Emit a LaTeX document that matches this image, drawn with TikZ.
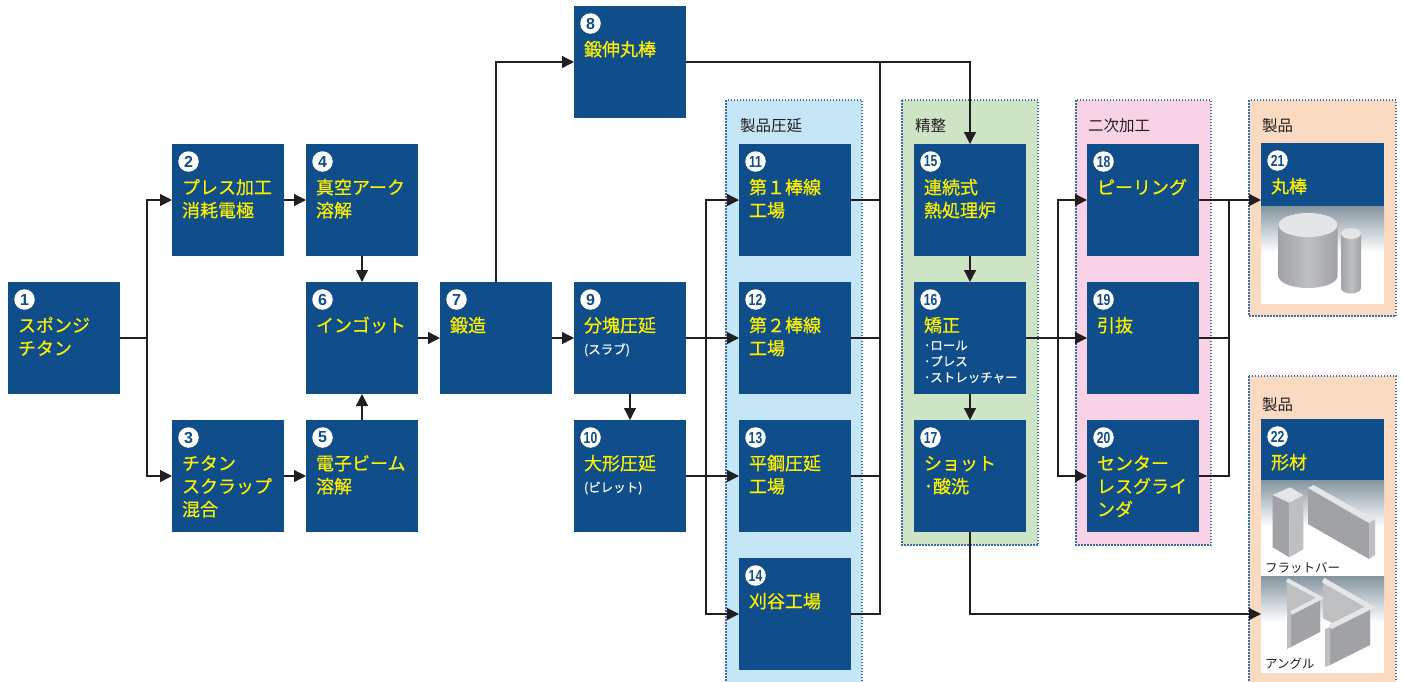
\documentclass[tikz,border=0pt]{standalone}
\usepackage{fontspec}
\usepackage{graphicx}
\usepackage{tikz}
\usetikzlibrary{arrows.meta}
\setmainfont{Noto Sans CJK JP}
\newfontfamily\titlefam{Noto Sans CJK JP}[FakeBold=0.5]
\newfontfamily\digitfam{Liberation Sans}

\definecolor{tiblue}{HTML}{0F4D8B}
\definecolor{tiyellow}{HTML}{FFF000}
\definecolor{rollbg}{HTML}{C5E6F7}
\definecolor{finbg}{HTML}{CEE5C5}
\definecolor{secbg}{HTML}{F8D3E5}
\definecolor{prodbg}{HTML}{FBDAC2}
\definecolor{dotblue}{HTML}{3C6EA6}
\definecolor{inkblack}{HTML}{231F20}
\definecolor{wirecol}{HTML}{231F20}
\definecolor{sky}{HTML}{84959F}
\definecolor{metal}{HTML}{A0A2A5}
\definecolor{metallight}{HTML}{BDBFC1}
\definecolor{metaltop}{HTML}{E4E5E6}

\newcommand\boxfont{\titlefam\fontsize{18pt}{23pt}\selectfont}
\newcommand\notefont{\fontsize{12.5pt}{16pt}\selectfont}
\newcommand\groupfont{\fontsize{15.5pt}{18pt}\selectfont}
\newcommand\badgefont{\digitfam\bfseries\fontsize{16pt}{16pt}\selectfont}
\newcommand\stepnote[2][2pt]{\par\vspace{#1}{\notefont\color{white}#2\par}}
\newcommand\twodig[1]{\scalebox{0.76}[1]{#1}}

\tikzstyle{block} = [rectangle, fill=tiblue, text=tiyellow, inner xsep=10pt, inner ysep=0pt, outer sep=0pt, text width=92pt, align=left, text height=50pt, text depth=62pt, font=\boxfont]
\tikzstyle{prod} = [block, text width=103pt]
\tikzstyle{badge} = [circle, fill=white, text=tiblue, inner sep=0pt, minimum size=20.5pt, font=\badgefont, anchor=center, xshift=16.5pt, yshift=-17.5pt]
\tikzstyle{panel} = [draw=dotblue, line width=1.2pt, dash pattern=on 1.5pt off 1.5pt]
\tikzstyle{gtitle} = [anchor=base west, inner sep=0pt, text=inkblack, font=\groupfont]
\tikzstyle{imgnote} = [anchor=base west, inner sep=0pt, text=inkblack, font=\notefont]
\tikzstyle{joint} = [line width=1.3pt, draw=wirecol]
\tikzstyle{arrow} = [joint, ->, >={Triangle[length=12pt,width=12pt]}]

\begin{document}
\begin{tikzpicture}[x=1pt, y=-1pt, node distance=138pt]
\useasboundingbox (0,0) rectangle (1402,681);

% process groups
\draw [panel, fill=rollbg] (726,100) rectangle (862,690);
\draw [panel, fill=finbg] (902,100) rectangle (1038,545);
\draw [panel, fill=secbg] (1076,100) rectangle (1211,545);
\draw [panel, fill=prodbg] (1249,100) rectangle (1396,316);
\draw [panel, fill=prodbg] (1249,376) rectangle (1396,690);
\node (t1) [gtitle] at (740,131) {製品圧延};
\node (t2) [gtitle] at (915,131) {精整};
\node (t3) [gtitle] at (1088,131) {二次加工};
\node (t4) [gtitle] at (1262,131) {製品};
\node (t5) [gtitle] at (1262,410) {製品};

% melting
\node (s1) [block, label={[badge]north west:1}] at (64,338) {スポンジ\\チタン};
\node (s6) [block, right of=s1, xshift=160pt, label={[badge]north west:6}] {インゴット};
\node (s4) [block, above of=s6, label={[badge]north west:4}] {真空アーク\\溶解};
\node (s5) [block, below of=s6, label={[badge]north west:5}] {電子ビーム\\溶解};
\node (s2) [block, left of=s4, xshift=4pt, label={[badge]north west:2}] {プレス加工\\消耗電極};
\node (s3) [block, left of=s5, xshift=4pt, label={[badge]north west:3}] {チタン\\スクラップ\\混合};

% forging and rolling
\node (s7) [block, right of=s6, xshift=-4pt, label={[badge]north west:7}] {鍛造};
\node (s9) [block, right of=s7, xshift=-4pt, label={[badge]north west:9}] {分塊圧延\stepnote[6pt]{(スラブ)}};
\node (s8) [block, above of=s9, yshift=138pt, label={[badge]north west:8}] {鍛伸丸棒};
\node (s10) [block, below of=s9, label={[badge]north west:\twodig{10}}] {大形圧延\stepnote[6pt]{(ビレット)}};

% product rolling
\node (s12) [block, right of=s9, xshift=27pt, label={[badge]north west:\twodig{12}}] {第２棒線\\工場};
\node (s11) [block, above of=s12, label={[badge]north west:\twodig{11}}] {第１棒線\\工場};
\node (s13) [block, below of=s12, label={[badge]north west:\twodig{13}}] {平鋼圧延\\工場};
\node (s14) [block, below of=s13, label={[badge]north west:\twodig{14}}] {刈谷工場};

% finishing
\node (s16) [block, right of=s12, xshift=37pt, label={[badge]north west:\twodig{16}}] {矯正\stepnote{･ロール\\･プレス\\･ストレッチャー}};
\node (s15) [block, above of=s16, label={[badge]north west:\twodig{15}}] {連続式\\熱処理炉};
\node (s17) [block, below of=s16, label={[badge]north west:\twodig{17}}] {ショット\\･酸洗};

% secondary work
\node (s19) [block, right of=s16, xshift=35pt, label={[badge]north west:\twodig{19}}] {引抜};
\node (s18) [block, above of=s19, label={[badge]north west:\twodig{18}}] {ピーリング};
\node (s20) [block, below of=s19, label={[badge]north west:\twodig{20}}] {センター\\レスグライ\\ンダ};

% products
\node (s21) [prod, right of=s18, xshift=41.5pt, yshift=-23.5pt, text depth=111pt, label={[badge]north west:\twodig{21}}] {丸棒};
\node (s22) [prod, right of=s20, xshift=41.5pt, yshift=-70pt, text depth=204pt, label={[badge]north west:\twodig{22}}] {形材};

\coordinate (m1) at (880,62);
\coordinate (m2) at (1229,200);

% connectors
\draw [arrow] (s1.east) -- ++(27,0) |- (s2);
\draw [arrow] (s1.east) -- ++(27,0) |- (s3);
\draw [arrow] (s2) -- (s4);
\draw [arrow] (s3) -- (s5);
\draw [arrow] (s4) -- (s6);
\draw [arrow] (s5) -- (s6);
\draw [arrow] (s6) -- (s7);
\draw [arrow] (s7) |- (s8);
\draw [arrow] (s7) -- (s9);
\draw [arrow] (s9) -- (s10);
\draw [arrow] (s9) -- (s12);
\draw [arrow] (s10) -- (s13);
\draw [arrow] (s9.east) -- ++(20,0) |- (s14);
\draw [arrow] (s10.east) -- ++(20,0) |- (s11);
\draw [arrow] (s8) -| (s15);
\draw [joint] (s14.east) -| (m1);
\draw [joint] (s11.east) -- (s11.east -| m1);
\draw [joint] (s12.east) -- (s12.east -| m1);
\draw [joint] (s13.east) -- (s13.east -| m1);
\draw [arrow] (s15) -- (s16);
\draw [arrow] (s16) -- (s17);
\draw [arrow] (s16) -- (s19);
\draw [arrow] (s16.east) -- ++(32,0) |- (s18);
\draw [arrow] (s16.east) -- ++(32,0) |- (s20);
\draw [arrow] (s18.east) -- (s18.east -| s21.west);
\draw [joint] (s20.east) -| (m2);
\draw [joint] (s19.east) -- (s19.east -| m2);
\draw [arrow] (s17) |- (s14.east -| s22.west);

% round bar picture
\fill [white] (1261,206) rectangle (1384,304);
\shade [top color=sky, bottom color=white] (1261,206) rectangle (1384,252);
\shade [left color=metal, right color=metal, middle color=metallight] (1278.5,225) -- (1278.5,276) arc (180:360:29.5pt and 12pt) -- (1337.5,225) -- cycle;
\fill [metaltop] (1308,225) ellipse (29.5pt and 12pt);
\shade [left color=metal, right color=metal, middle color=metallight] (1341,233.5) -- (1341,288) arc (180:360:10pt and 5.5pt) -- (1361,233.5) -- cycle;
\fill [metaltop] (1351,233.5) ellipse (10pt and 5.5pt);

% flat bar picture
\fill [white] (1261,480) rectangle (1384,673);
\shade [top color=sky, bottom color=white] (1261,480) rectangle (1384,526);
\fill [metal] (1308,488) -- (1369,523) -- (1369,559) -- (1308,524) -- cycle;
\fill [metaltop] (1308,488) -- (1313.5,485) -- (1375,519.5) -- (1369,523) -- cycle;
\fill [metallight] (1369,523) -- (1375,519.5) -- (1375,555) -- (1369,559) -- cycle;
\fill [metal] (1272.7,495) -- (1289.3,502.7) -- (1289.3,557.3) -- (1272.7,547.3) -- cycle;
\fill [metallight] (1289.3,502.7) -- (1303.3,495) -- (1303.3,549.3) -- (1289.3,557.3) -- cycle;
\fill [metaltop] (1272.7,495) -- (1290,487.3) -- (1303.3,495) -- (1289.3,502.7) -- cycle;
\node (n1) [imgnote] at (1265,572) {フラットバー};

% angle picture
\shade [top color=sky, bottom color=white] (1261,576) rectangle (1384,622);
\fill [metallight] (1287,580) -- (1320,598) -- (1320,632) -- (1287,614) -- cycle;
\fill [metal] (1291,613) -- (1320,598) -- (1320,632) -- (1291,647) -- cycle;
\fill [metallight] (1287,615) -- (1291,613) -- (1291,647) -- (1287,649) -- cycle;
\draw [metaltop, line width=4pt] (1287,580) -- (1320,598) -- (1291,613);
\fill [metallight] (1323,580) -- (1370,607) -- (1370,645) -- (1323,618) -- cycle;
\fill [metal] (1330,627) -- (1370,607) -- (1370,645) -- (1330,665) -- cycle;
\fill [metallight] (1325,629) -- (1330,627) -- (1330,665) -- (1325,667) -- cycle;
\draw [metaltop, line width=5pt] (1323,580) -- (1370,607) -- (1330,627);
\node (n2) [imgnote] at (1265,668) {アングル};
\end{tikzpicture}
\end{document}
